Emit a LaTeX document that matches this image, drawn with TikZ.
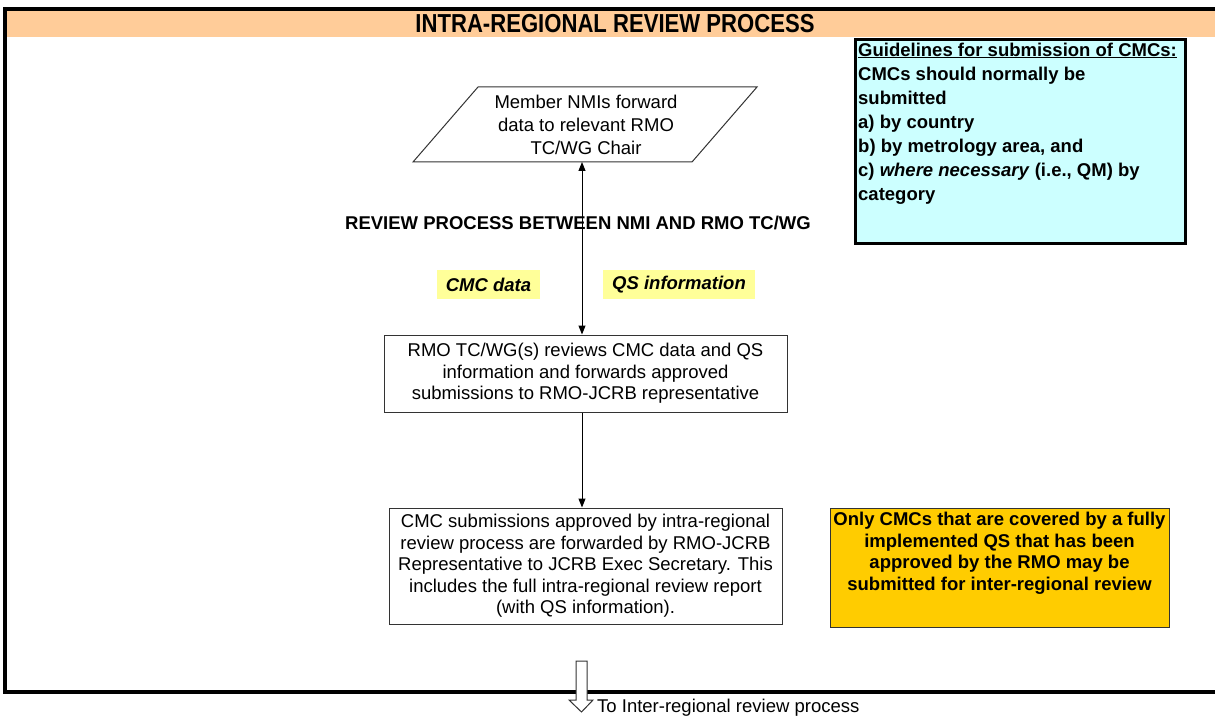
\documentclass[tikz,border=0pt]{standalone}
\usepackage{fontspec}
\setmainfont{Liberation Sans}
\newfontfamily\titlefont[FakeStretch=0.85]{Liberation Sans}
\usetikzlibrary{arrows.meta}
\definecolor{bandorange}{HTML}{FFCC99}
\definecolor{guidecyan}{HTML}{CCFFFF}
\definecolor{labelyellow}{HTML}{FFFF99}
\definecolor{notegold}{HTML}{FFCC00}
\definecolor{boxline}{HTML}{333333}
\begin{document}
\begin{tikzpicture}[x=1pt,y=-1pt,
  bodyfont/.style={font=\fontsize{18.5}{21.5}\selectfont},
  procbox/.style={draw=boxline, line width=1pt, fill=white, align=center, bodyfont, inner sep=0pt},
  plain/.style={align=center, bodyfont, inner sep=0pt},
  datalabel/.style={fill=labelyellow, font=\fontsize{18.5}{21.5}\selectfont\bfseries\itshape, minimum height=29pt, inner sep=0pt},
  conn/.style={draw=black, line width=1pt},
  tip/.style={-{Triangle[length=9pt,width=7pt]}}
]
\useasboundingbox (0,0) rectangle (1215,719);
% header band and frame
\fill[bandorange] (7,11) rectangle (1215,37);
\draw[line width=4pt] (1230,9) -- (5,9) -- (5,692) -- (1230,692);
\node[font=\titlefont\fontsize{26}{28}\selectfont\bfseries, inner sep=0pt] (title) at (615,24) {INTRA-REGIONAL REVIEW PROCESS};

% guidelines box
\node[draw=black, line width=3pt, fill=guidecyan, minimum width=330pt, minimum height=204pt, anchor=north west, inner sep=0pt] (guide) at (854,38) {};
\node[anchor=north west, align=left, inner sep=0pt, font=\fontsize{18.5}{24}\selectfont\bfseries] (guidetext) at (858,42.5)
{\underline{Guidelines for submission of CMCs:}\\
CMCs should normally be\\
submitted\\
a) by country\\
b) by metrology area, and\\
c) \textit{where necessary} (i.e., QM) by\\
category};

% parallelogram
\coordinate (pbl) at (413,162);
\coordinate (pbr) at (692,162);
\coordinate (ptr) at (757,87);
\coordinate (ptl) at (478,87);
\draw[draw=boxline, line width=1pt, fill=white] (pbl) -- (pbr) -- (ptr) -- (ptl) -- cycle;
\node[plain, font=\fontsize{18.5}{23}\selectfont] (nmi) at (586,125) {Member NMIs forward\\data to relevant RMO\\TC/WG Chair};
\coordinate (nmibottom) at (582,162);

% review heading and labels
\node[font=\fontsize{18.5}{21.5}\selectfont\bfseries, inner sep=0pt] (reviewhead) at (578,223) {REVIEW PROCESS BETWEEN NMI AND RMO TC/WG};
\node[datalabel, minimum width=103pt] (cmcdata) at (488.5,284.5) {CMC data};
\node[datalabel, minimum width=152pt] (qsinfo) at (679,284.5) {QS information};

% process boxes
\node[procbox, minimum width=403pt, minimum height=77pt] (rmo) at (585.5,373.5)
{RMO TC/WG(s) reviews CMC data and QS\\information and forwards approved\\submissions to RMO-JCRB representative};
\node[procbox, minimum width=393pt, minimum height=116pt] (cmcsub) at (585.5,566)
{CMC submissions approved by intra-regional\\review process are forwarded by RMO-JCRB\\Representative to JCRB Exec Secretary. This\\includes the full intra-regional review report\\(with QS information).};

% note box
\node[draw=boxline, line width=1pt, fill=notegold, minimum width=339pt, minimum height=119pt, anchor=north west, inner sep=0pt] (onlybox) at (830,508) {};
\node[anchor=north, align=center, inner sep=0pt, font=\fontsize{18.5}{21.5}\selectfont\bfseries] (onlytext) at (999.5,512)
{Only CMCs that are covered by a fully\\implemented QS that has been\\approved by the RMO may be\\submitted for inter-regional review};

% connectors
\draw[conn, {Triangle[length=9pt,width=7pt]}-{Triangle[length=9pt,width=7pt]}] (nmibottom) -- (nmibottom |- rmo.north);
\draw[conn, tip] (nmibottom |- rmo.south) -- (nmibottom |- cmcsub.north);

% block arrow out
\draw[draw=boxline, line width=1pt, fill=white] (576,661) -- (587,661) -- (587,700) -- (593,700) -- (581.5,712) -- (569,700) -- (576,700) -- cycle;
\node[anchor=west, bodyfont, inner sep=0pt] (tointer) at (597,708) {To Inter-regional review process};
\end{tikzpicture}
\end{document}
